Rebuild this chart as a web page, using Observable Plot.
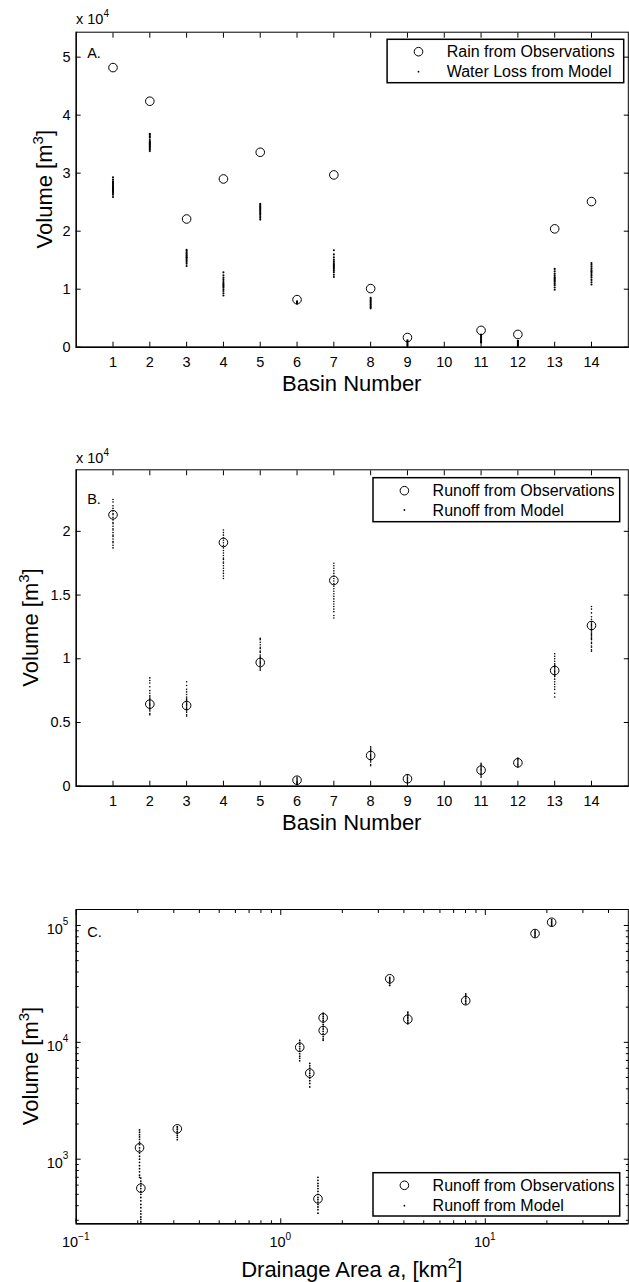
<!DOCTYPE html>
<html>
<head>
<meta charset="utf-8">
<script src="https://cdn.jsdelivr.net/npm/d3@7"></script>
<script src="https://cdn.jsdelivr.net/npm/@observablehq/plot@0.6"></script>
<style>
  body { margin: 0; background: #fff; }
  #chart { width: 629px; height: 1282px; font-family: "Liberation Sans", Arial, sans-serif; }
  #chart svg { display: block; }
</style>
</head>
<body>
<div id="chart"></div>
<script>
// ---- Basin event volumes (m^3) ----
const basins = [1, 2, 3, 4, 5, 6, 7, 8, 9, 11, 12, 13, 14];
const basinTicks = [1, 2, 3, 4, 5, 6, 7, 8, 9, 10, 11, 12, 13, 14];

// A. rain from observations and water loss from the model ensemble
const rainObs = [48200, 42400, 22100, 29000, 33600, 8200, 29700, 10100, 1670, 2900, 2200, 20400, 25100];
const waterLossModel = [
  [25900, 26300, 26600, 26800, 27000, 27200, 27300, 27500, 27700, 27800, 28000, 28200, 28400, 28600, 28900, 29300],
  [33800, 34100, 34300, 34500, 34600, 34800, 35000, 35100, 35300, 35400, 35700, 36100, 36300, 36600, 36800],
  [14000, 14400, 14700, 15000, 15200, 15400, 15500, 15700, 15900, 16100, 16300, 16600, 16800],
  [8900, 9300, 9700, 10000, 10300, 10500, 10700, 10900, 11100, 11400, 11700, 12000, 12400, 12900],
  [22000, 22300, 22600, 22900, 23100, 23300, 23500, 23700, 23900, 24100, 24300, 24500, 24700],
  [7500, 7600, 7700, 7800, 7900],
  [12100, 12500, 12900, 13200, 13500, 13700, 13900, 14100, 14300, 14500, 14800, 15100, 15500, 16000, 16700],
  [6700, 6900, 7100, 7300, 7500, 7700, 7900, 8100, 8300, 8500],
  [200, 400, 600, 800, 1000, 1200],
  [800, 1000, 1200, 1400, 1600, 1800, 2000, 2200],
  [200, 400, 600, 800, 1000, 1100],
  [9900, 10300, 10700, 11000, 11300, 11500, 11700, 11900, 12100, 12400, 12700, 13100, 13500],
  [10800, 11200, 11600, 12000, 12300, 12600, 12900, 13100, 13300, 13600, 13900, 14200, 14500]
];
const yTicksA = [0, 10000, 20000, 30000, 40000, 50000];

// B. runoff from observations and from the model ensemble
const runoffObs = [21300, 6440, 6330, 19130, 9710, 470, 16150, 2410, 580, 1260, 1840, 9080, 12610];
const runoffModel = [
  [18700, 18900, 19100, 19200, 19400, 19600, 19700, 19900, 20100, 20200, 20400, 20600, 20700, 20900, 21100, 21300, 21400, 21600, 21800, 22000, 22300, 22500],
  [5600, 5700, 5900, 6000, 6100, 6200, 6300, 6400, 6500, 6600, 6700, 6800, 6900, 7000, 7100, 7300, 7500, 7800, 8100, 8300, 8500],
  [5500, 5600, 5800, 5900, 6000, 6100, 6200, 6300, 6400, 6500, 6600, 6700, 6800, 6900, 7000, 7200, 7400, 7600, 7900, 8200],
  [16300, 16500, 16700, 16900, 17100, 17300, 17500, 17600, 17800, 17900, 18100, 18300, 18500, 18700, 18900, 19100, 19300, 19500, 19700, 19900, 20100],
  [9100, 9200, 9300, 9500, 9600, 9700, 9800, 9900, 10000, 10100, 10200, 10300, 10500, 10600, 10800, 10900, 11100, 11300, 11500, 11600],
  [200, 300, 400, 500, 600, 700],
  [13200, 13400, 13700, 13900, 14100, 14300, 14500, 14700, 14900, 15100, 15300, 15500, 15700, 15900, 16100, 16300, 16500, 16700, 16900, 17100, 17300, 17500],
  [1600, 1700, 1900, 2000, 2100, 2200, 2300, 2400, 2500, 2600, 2700, 2800, 2900, 3000, 3100],
  [300, 400, 500, 600, 700, 800, 900],
  [700, 800, 900, 1000, 1100, 1200, 1300, 1400, 1500, 1600, 1700, 1800],
  [1500, 1600, 1700, 1800, 1900, 2000, 2100, 2200],
  [7000, 7300, 7600, 7800, 8000, 8200, 8400, 8600, 8700, 8800, 8900, 9000, 9100, 9200, 9300, 9400, 9500, 9600, 9800, 10000, 10200, 10400],
  [10600, 10700, 10900, 11000, 11200, 11300, 11500, 11600, 11700, 11800, 11900, 12000, 12100, 12200, 12300, 12400, 12500, 12600, 12700, 12800, 12900, 13100, 13300, 13600, 13900, 14100]
];
const yTicksB = [0, 5000, 10000, 15000, 20000];

// C. runoff against drainage area (log-log)
const drainageArea = [0.204, 0.207, 0.312, 1.238, 1.386, 1.52, 1.612, 1.612, 3.41, 4.18, 8.02, 17.5, 21.1];
const runoffObsC = [1252, 565, 1820, 9080, 5445, 458, 16220, 12620, 35000, 15780, 22700, 85300, 106600];
const runoffModelC = [
  [700, 730, 780, 830, 880, 940, 1000, 1060, 1130, 1190, 1250, 1330, 1400, 1480, 1550, 1620, 1700, 1780],
  [260, 275, 290, 305, 320, 340, 360, 385, 410, 440, 470, 500, 530, 560, 590, 620, 650, 690],
  [1470, 1540, 1600, 1660, 1720, 1790, 1850, 1900],
  [6950, 7300, 7600, 8000, 8400, 8800, 9200, 9600, 10000, 10400],
  [4150, 4450, 4700, 4950, 5200, 5450, 5700, 6000, 6300, 6600],
  [345, 370, 390, 410, 430, 450, 470, 500, 530, 560, 590, 620, 660, 700],
  [14200, 14800, 15400, 16000, 16600, 17200, 17800],
  [10400, 10700, 11200, 11800, 12400, 13000, 13600],
  [30700, 31800, 33000, 34000, 35000, 36000],
  [14400, 14900, 15400, 15900, 16400, 16900, 17500, 18100],
  [21500, 22300, 23000, 23800, 24600, 25300, 26000],
  [80000, 82500, 85000, 87500, 90000],
  [100000, 103000, 106000, 109000, 112000]
];
const xMajorC = [0.1, 1, 10];
const xMinorC = [0.2, 0.3, 0.4, 0.5, 0.6, 0.7, 0.8, 0.9, 2, 3, 4, 5, 6, 7, 8, 9, 20, 30, 40];
const yMajorC = [1000, 10000, 100000];
const yMinorC = [300, 400, 500, 600, 700, 800, 900, 2000, 3000, 4000, 5000, 6000, 7000, 8000, 9000,
                 20000, 30000, 40000, 50000, 60000, 70000, 80000, 90000];

// ---- tables for the marks ----
const flatten = (lists, keys) => lists.flatMap((vals, i) => vals.map(v => ({k: keys[i], v})));
const obsA = rainObs.map((v, i) => ({k: basins[i], v}));
const modA = flatten(waterLossModel, basins);
const obsB = runoffObs.map((v, i) => ({k: basins[i], v}));
const modB = flatten(runoffModel, basins);
const obsC = runoffObsC.map((v, i) => ({k: drainageArea[i], v}));
const modC = flatten(runoffModelC, drainageArea);

const FONT = '"Liberation Sans", Arial, Helvetica, sans-serif';
const W = 629;
const M = {left: 75.7, right: 1.2};
const root = d3.select("#chart");

const baseStyle = {fontFamily: FONT, fontSize: "14.5px", color: "black", background: "white", overflow: "visible"};

// Marks shared by the scatter panels: observation circles and ensemble dots
function dataMarks(obs, mod, clip, dotR) {
  return [
    Plot.dot(mod, {x: "k", y: "v", r: dotR, fill: "black", clip}),
    Plot.dot(obs, {x: "k", y: "v", r: 4.3, stroke: "black", strokeWidth: 1, fill: "none", clip})
  ];
}

// Boxed axes with inward ticks on all four sides
function boxAxes(xt, yt, yFmt, xMin, yMin) {
  return [
    Plot.frame({stroke: "black", strokeWidth: 1}),
    Plot.ruleY([yMin], {stroke: "black", strokeWidth: 1.6}),
    Plot.ruleX([xMin], {stroke: "black", strokeWidth: 1.3}),
    Plot.axisX(xt, {anchor: "bottom", tickSize: -5, tickFormat: () => "", label: null}),
    Plot.axisX(xt, {anchor: "top", tickSize: -5, tickFormat: () => "", label: null}),
    Plot.axisY(yt, {anchor: "left", tickSize: -5, tickFormat: () => "", label: null}),
    Plot.axisY(yt, {anchor: "right", tickSize: -5, tickFormat: () => "", label: null}),
    Plot.axisX(xt, {anchor: "bottom", tickSize: 0, tickPadding: 10, tickFormat: String, label: null}),
    Plot.axisY(yt, {anchor: "left", tickSize: 0, tickPadding: 5.5, tickFormat: yFmt, label: null})
  ];
}

function panelLetter(letter, dy) {
  return Plot.text([letter], {text: d => d, frameAnchor: "top-left", dx: 11, dy, textAnchor: "start",
    lineAnchor: "middle", fontSize: 14.5, fill: "black"});
}

function addYLabel(svg, x, cy) {
  const t = svg.append("text").attr("transform", `translate(${x},${cy}) rotate(-90)`)
    .attr("text-anchor", "middle").attr("font-family", FONT).attr("font-size", 22).attr("fill", "black");
  t.append("tspan").text("Volume [m");
  t.append("tspan").attr("font-size", 15).attr("dy", -9).text("3");
  t.append("tspan").attr("dy", 9).text("]");
}

function addXLabelBasin(svg, y) {
  svg.append("text").attr("x", 351.75).attr("y", y).attr("text-anchor", "middle")
    .attr("font-family", FONT).attr("font-size", 22).attr("fill", "black").text("Basin Number");
}

function addMultiplier(svg, y) {
  const t = svg.append("text").attr("x", 76).attr("y", y).attr("text-anchor", "start")
    .attr("font-family", FONT).attr("font-size", 14.5).attr("fill", "black");
  t.append("tspan").text("x 10");
  t.append("tspan").attr("font-size", 10).attr("dy", -7).text("4");
}

function addLegend(svg, box, rows, cx, tx, labels) {
  const g = svg.append("g").attr("font-family", FONT).attr("font-size", 16).attr("fill", "black")
    .attr("text-anchor", "start");
  g.append("rect").attr("x", box[0]).attr("y", box[1]).attr("width", box[2] - box[0])
    .attr("height", box[3] - box[1]).attr("fill", "white").attr("stroke", "black").attr("stroke-width", 1.5);
  g.append("circle").attr("cx", cx).attr("cy", rows[0]).attr("r", 4.3)
    .attr("fill", "none").attr("stroke", "black").attr("stroke-width", 1);
  g.append("circle").attr("cx", cx).attr("cy", rows[1]).attr("r", 0.9).attr("fill", "black");
  labels.forEach((s, i) => g.append("text").attr("x", tx).attr("y", rows[i] + 5.6)
    .attr("text-anchor", "start").text(s));
}

// ---------- Panel A ----------
const plotA = Plot.plot({
  width: W, height: 420,
  marginTop: 31.7, marginBottom: 73.3, marginLeft: M.left, marginRight: M.right,
  style: baseStyle,
  x: {domain: [0, 15]},
  y: {domain: [0, 54300]},
  marks: [
    ...dataMarks(obsA, modA, false, 1.05),
    ...boxAxes(basinTicks, yTicksA, d => String(d / 10000), 0, 0),
    panelLetter("A.", 21.6)
  ]
});
root.append(() => plotA);
{
  const svg = d3.select(plotA);
  addMultiplier(svg, 24);
  addYLabel(svg, 52, 189.2);
  addXLabelBasin(svg, 390.6);
  addLegend(svg, [387.1, 39.3, 623.7, 82.7], [51.7, 71.7], 418.5, 446.7,
    ["Rain from Observations", "Water Loss from Model"]);
}

// ---------- Panel B ----------
const plotB = Plot.plot({
  width: W, height: 420,
  marginTop: 49.3, marginBottom: 54.3, marginLeft: M.left, marginRight: M.right,
  style: baseStyle,
  x: {domain: [0, 15]},
  y: {domain: [0, 24830]},
  marks: [
    ...dataMarks(obsB, modB, false, 0.8),
    ...boxAxes(basinTicks, yTicksB, d => String(d / 10000), 0, 0),
    panelLetter("B.", 30)
  ]
});
root.append(() => plotB);
{
  const svg = d3.select(plotB);
  addMultiplier(svg, 43.4);
  addYLabel(svg, 38, 207.5);
  addXLabelBasin(svg, 409.6);
  addLegend(svg, [373, 57.7, 619.7, 101.7], [70.7, 90], 404.4, 432.6,
    ["Runoff from Observations", "Runoff from Model"]);
}

// ---------- Panel C ----------
const plotC = Plot.plot({
  width: W, height: 442,
  marginTop: 69, marginBottom: 58.7, marginLeft: M.left, marginRight: M.right,
  style: baseStyle,
  x: {type: "log", domain: [0.1, 50]},
  y: {type: "log", domain: [280, 137000]},
  marks: [
    ...dataMarks(obsC, modC, true, 0.9),
    Plot.frame({stroke: "black", strokeWidth: 1}),
    Plot.ruleY([280], {stroke: "black", strokeWidth: 1.6}),
    Plot.ruleX([0.1], {stroke: "black", strokeWidth: 1.3}),
    Plot.axisX(xMajorC, {anchor: "bottom", tickSize: -5, tickFormat: () => "", label: null}),
    Plot.axisX(xMajorC, {anchor: "top", tickSize: -5, tickFormat: () => "", label: null}),
    Plot.axisX(xMinorC, {anchor: "bottom", tickSize: -3, tickFormat: () => "", label: null}),
    Plot.axisX(xMinorC, {anchor: "top", tickSize: -3, tickFormat: () => "", label: null}),
    Plot.axisY(yMajorC, {anchor: "left", tickSize: -5, tickFormat: () => "", label: null}),
    Plot.axisY(yMajorC, {anchor: "right", tickSize: -5, tickFormat: () => "", label: null}),
    Plot.axisY(yMinorC, {anchor: "left", tickSize: -3, tickFormat: () => "", label: null}),
    Plot.axisY(yMinorC, {anchor: "right", tickSize: -3, tickFormat: () => "", label: null}),
    panelLetter("C.", 22.7)
  ]
});
root.append(() => plotC);
{
  const svg = d3.select(plotC);
  const sx = plotC.scale("x"), sy = plotC.scale("y");
  const yBottom = sy.apply(280);
  // power-of-ten tick labels
  xMajorC.forEach(v => {
    const t = svg.append("text").attr("x", sx.apply(v)).attr("y", yBottom + 23.4).attr("text-anchor", "middle")
      .attr("font-family", FONT).attr("font-size", 14.5).attr("fill", "black");
    t.append("tspan").text("10");
    t.append("tspan").attr("font-size", 10).attr("dy", -7).text(String(Math.round(Math.log10(v))).replace("-", "\u2212"));
  });
  yMajorC.forEach(v => {
    const t = svg.append("text").attr("x", sx.apply(0.1) - 7.3).attr("y", sy.apply(v) + 9.5).attr("text-anchor", "end")
      .attr("font-family", FONT).attr("font-size", 14.5).attr("fill", "black");
    t.append("tspan").text("10");
    t.append("tspan").attr("font-size", 10).attr("dy", -9).text(String(Math.round(Math.log10(v))));
  });
  addYLabel(svg, 38, 226);
  const t = svg.append("text").attr("x", 351.75).attr("y", 437.3).attr("text-anchor", "middle")
    .attr("font-family", FONT).attr("font-size", 22).attr("fill", "black");
  t.append("tspan").text("Drainage Area ");
  t.append("tspan").attr("font-style", "italic").text("a");
  t.append("tspan").text(", [km");
  t.append("tspan").attr("font-size", 15).attr("dy", -9).text("2");
  t.append("tspan").attr("dy", 9).text("]");
  addLegend(svg, [373, 332.7, 619.7, 376], [345.3, 365.7], 404.4, 432.6,
    ["Runoff from Observations", "Runoff from Model"]);
}
</script>
</body>
</html>
